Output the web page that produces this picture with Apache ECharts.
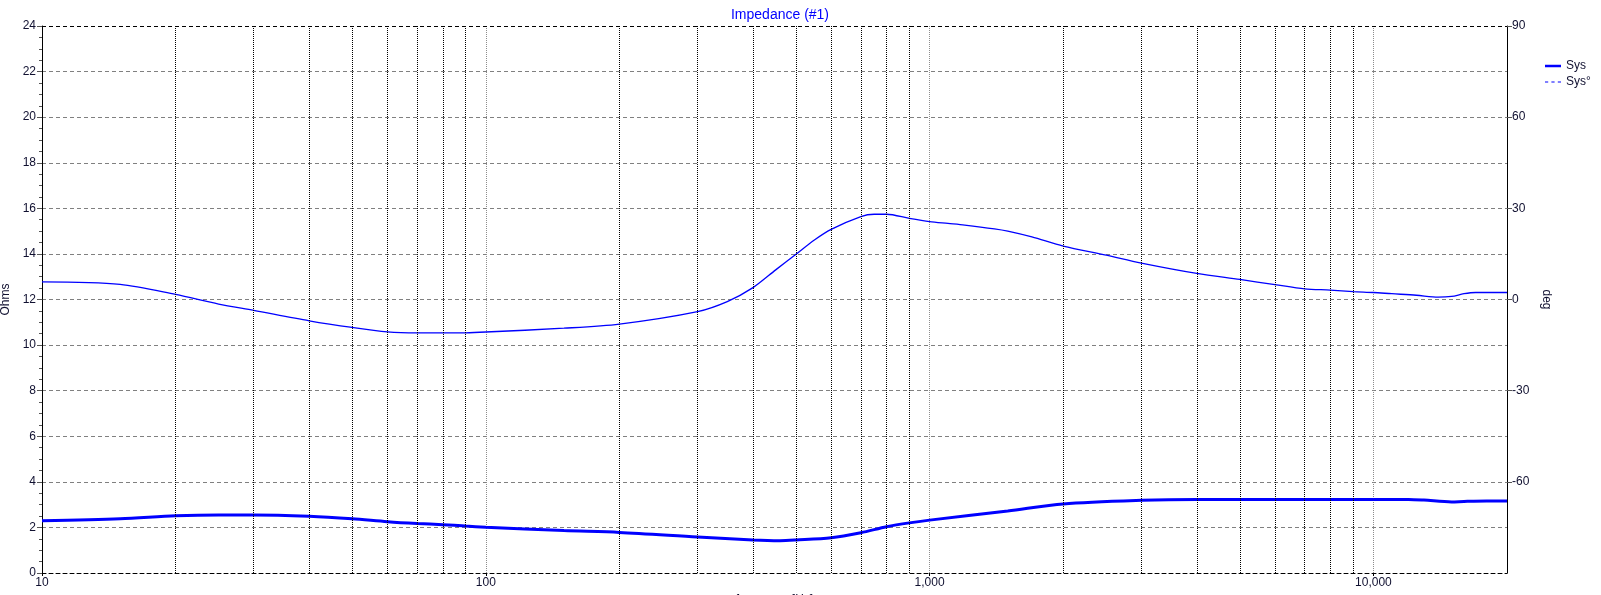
<!DOCTYPE html>
<html><head><meta charset="utf-8">
<script src="https://cdn.jsdelivr.net/npm/echarts@6/dist/echarts.min.js"></script>
<style>html,body{margin:0;padding:0;background:#fff}#c{width:1601px;height:595px}</style>
</head><body><div id="c"></div>
<script>
// Sys (impedance magnitude, Ohms, left axis)
const sysFreq = [10, 15, 20, 25, 30, 40, 50, 60, 70, 80, 90, 100, 150, 200, 300, 400, 460, 500, 600, 700, 800, 900, 1000, 1500, 2000, 3000, 4000, 5000, 7000, 10000, 12000, 13000, 15000, 16000, 18000, 20000];
const sysOhms = [2.29, 2.38, 2.51, 2.55, 2.55, 2.49, 2.38, 2.25, 2.17, 2.12, 2.06, 2.01, 1.86, 1.78, 1.58, 1.45, 1.42, 1.45, 1.55, 1.77, 2.03, 2.20, 2.32, 2.72, 3.03, 3.19, 3.23, 3.23, 3.23, 3.23, 3.23, 3.20, 3.12, 3.14, 3.16, 3.16];
// Sys° (phase, degrees, right axis)
const phaseFreq = [10, 15, 20, 25, 30, 40, 50, 60, 70, 80, 90, 100, 150, 200, 300, 350, 400, 450, 500, 550, 600, 700, 750, 800, 900, 1000, 1100, 1200, 1400, 1500, 1700, 2000, 2500, 3000, 4000, 5000, 6000, 7000, 8000, 9000, 10000, 11000, 12500, 14000, 15000, 16000, 17000, 20000];
const phaseDeg = [5.8, 5.0, 1.65, -1.5, -3.6, -7.0, -9.2, -10.65, -11.0, -11.0, -10.95, -10.7, -9.45, -8.1, -4.0, -0.7, 3.9, 9.75, 14.9, 19.6, 23.1, 27.3, 28.05, 28.05, 26.7, 25.65, 25.05, 24.5, 23.25, 22.5, 20.6, 17.6, 14.6, 12.0, 8.6, 6.6, 4.9, 3.5, 3.1, 2.6, 2.3, 1.9, 1.4, 0.75, 1.0, 1.9, 2.3, 2.3];
// grid / tick definitions
const minorGridFreqs = [20, 30, 40, 50, 60, 70, 80, 90, 200, 300, 400, 500, 600, 700, 800, 900, 2000, 3000, 4000, 5000, 6000, 7000, 8000, 9000];
const xTickLabels = [10, 100, 1000, 10000];

const txt = '#101030';
const font = 'Liberation Sans, Arial, sans-serif';
const chart = echarts.init(document.getElementById('c'));
chart.setOption({
  animation: false,
  backgroundColor: '#fff',
  title: {
    text: 'Impedance (#1)', left: 775, textAlign: 'center', top: 3,
    textStyle: { color: '#0000ff', fontSize: 14, fontWeight: 'normal', fontFamily: font }
  },
  legend: {
    orient: 'vertical', left: 1540, top: 55, itemWidth: 16, itemHeight: 12, itemGap: 4,
    symbolKeepAspect: true,
    textStyle: { color: txt, fontSize: 12, fontFamily: font },
    data: [
      { name: 'Sys', icon: 'path://M0,0 L16,0 L16,2.5 L0,2.5 Z' },
      { name: 'Sys°', icon: 'path://M0,0 h3.2 v1 h-3.2 Z M6.4,0 h3.2 v1 h-3.2 Z M12.8,0 h3.2 v1 h-3.2 Z' }
    ]
  },
  grid: { left: 42, right: 94, top: 26, bottom: 22, containLabel: false, outerBoundsMode: 'none' },
  xAxis: {
    type: 'log', logBase: 10, min: 10, max: 20000,
    name: 'frequency [Hz]', nameLocation: 'middle', nameGap: 21,
    nameTextStyle: { color: txt, fontSize: 12, fontFamily: font },
    axisLine: { show: true, lineStyle: { color: '#000', type: [4, 3], width: 1 } },
    axisTick: { show: true, length: 3, lineStyle: { color: '#000' } },
    axisLabel: {
      color: txt, fontSize: 12, fontFamily: font, margin: 4, showMaxLabel: false,
      formatter: v => {
        const r = Math.round(v);
        return (xTickLabels.includes(r) && Math.abs(v - r) < 1e-6 * r) ? r.toLocaleString('en-US') : '';
      }
    },
    splitLine: { show: true, lineStyle: { color: '#8c8c8c', type: 'dotted', width: 1 } }
  },
  yAxis: [
    {
      type: 'value', min: 0, max: 24, interval: 2, position: 'left',
      name: 'Ohms', nameLocation: 'middle', nameGap: 28, nameRotate: 90,
      nameTextStyle: { color: txt, fontSize: 12, fontFamily: font },
      axisLine: { show: true, lineStyle: { color: '#000', width: 1 } },
      axisTick: { show: true, length: 5, lineStyle: { color: '#555' } },
      minorTick: { show: true, splitNumber: 4, length: 3, lineStyle: { color: '#555' } },
      axisLabel: { color: txt, fontSize: 12, fontFamily: font, margin: 6 },
      splitLine: { show: true, lineStyle: { color: '#808080', type: [4, 3], width: 1 } }
    },
    {
      type: 'value', min: -90, max: 90, interval: 30, position: 'right',
      name: 'deg', nameLocation: 'middle', nameGap: 24, nameRotate: -90,
      nameTextStyle: { color: txt, fontSize: 12, fontFamily: font },
      axisLine: { show: true, lineStyle: { color: '#000', width: 1 } },
      axisTick: { show: true, length: 5, lineStyle: { color: '#555' } },
      axisLabel: { color: txt, fontSize: 12, fontFamily: font, margin: 5, showMinLabel: false },
      splitLine: { show: false }
    }
  ],
  series: [
    {
      name: 'Sys', type: 'line', yAxisIndex: 0, symbol: 'none', smooth: 0.3,
      lineStyle: { color: '#0000ff', width: 3 }, itemStyle: { color: '#0000ff' },
      data: sysFreq.map((f, i) => [f, sysOhms[i]]),
      markLine: {
        silent: true, symbol: 'none', label: { show: false }, animation: false,
        lineStyle: { color: '#000', type: 'dotted', width: 1 },
        data: minorGridFreqs.map(f => ({ xAxis: f })).concat([
          { yAxis: 24, lineStyle: { color: '#000', type: [4, 3], width: 1 } }
        ])
      },
      z: 3
    },
    {
      name: 'Sys°', type: 'line', yAxisIndex: 1, symbol: 'none', smooth: 0.3,
      lineStyle: { color: '#0000ff', width: 1.3 }, itemStyle: { color: '#0000ff' },
      data: phaseFreq.map((f, i) => [f, phaseDeg[i]]),
      z: 3
    }
  ]
});
</script>
</body></html>
